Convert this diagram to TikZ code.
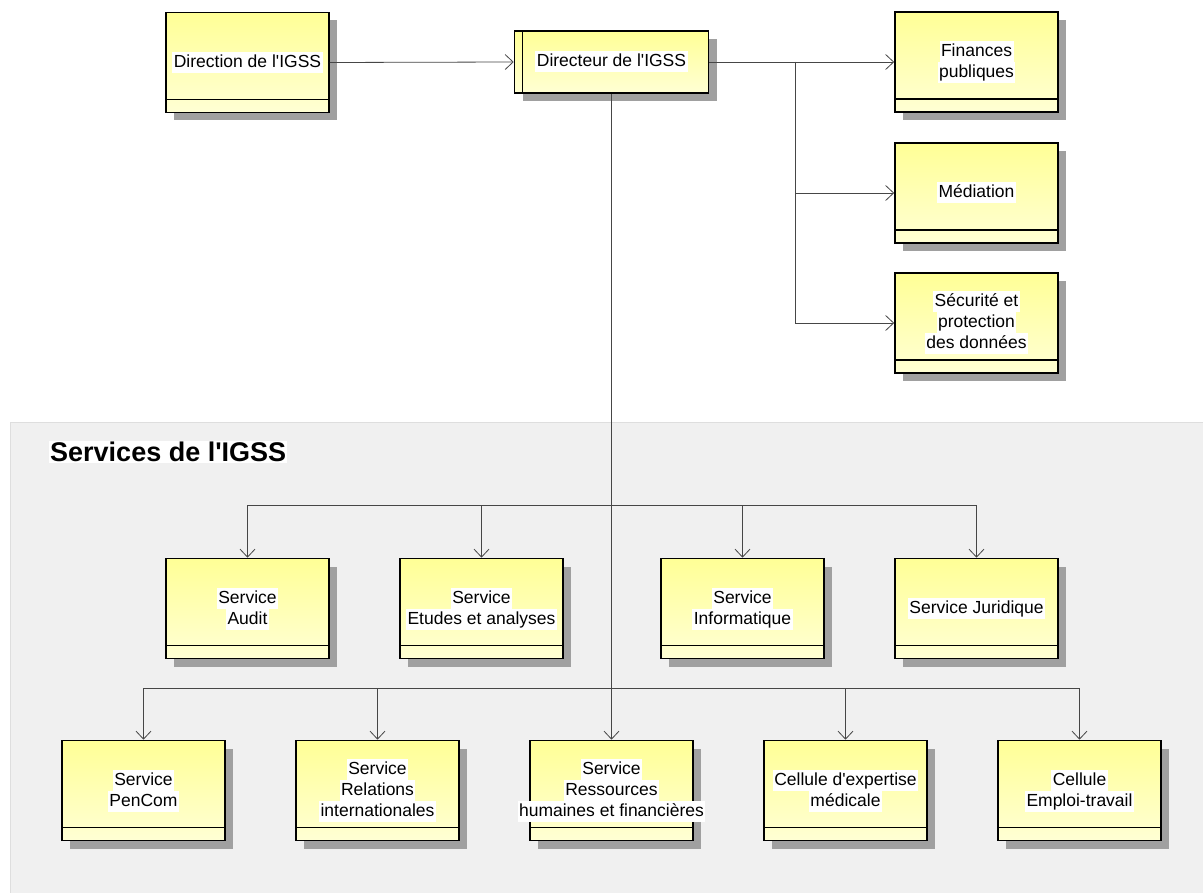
\documentclass[tikz,border=0pt]{standalone}
\usepackage{fontspec}
\setmainfont[Ligatures=TeXOff]{Liberation Sans}
\usetikzlibrary{arrows.meta,shadows}
\definecolor{boxtop}{RGB}{255,255,150}
\definecolor{boxbot}{RGB}{255,255,212}
\definecolor{shadowgray}{RGB}{160,160,160}
\definecolor{panelfill}{RGB}{240,240,240}
\definecolor{paneldraw}{RGB}{222,222,222}
\definecolor{conncol}{RGB}{70,70,70}
\newcommand{\wl}[1]{{\setlength{\fboxsep}{0pt}\colorbox{white}{\rule[-5.5pt]{0pt}{21pt}\hspace{1.5pt}#1\hspace{1.5pt}}}}
\tikzset{
  boxbase/.style={draw=black, line width=1.6pt, top color=boxtop, bottom color=boxbot,
    drop shadow={shadow xshift=8pt, shadow yshift=-8pt, fill=shadowgray, opacity=1},
    align=center, inner sep=0pt, font=\fontsize{17.5}{21}\selectfont},
  umlbox/.style={boxbase, minimum width=163pt, minimum height=100pt,
    path picture={\draw[line width=1.6pt] ([yshift=13pt]path picture bounding box.south west) -- ([yshift=13pt]path picture bounding box.south east);}},
  headbox/.style={boxbase, minimum width=194pt, minimum height=62pt,
    path picture={\draw[line width=1.6pt] ([xshift=8pt]path picture bounding box.north west) -- ([xshift=8pt]path picture bounding box.south west);}},
  conn/.style={draw=conncol, line width=0.8pt, -{Straight Barb[length=8pt,width=15pt,line width=0.8pt]}},
  plain/.style={draw=conncol, line width=0.8pt}
}
\begin{document}
\begin{tikzpicture}[x=1pt,y=-1pt]
\useasboundingbox (0,0) rectangle (1203,893);
\fill[white] (0,0) rectangle (1203,893);
% panel
\path[fill=panelfill, draw=paneldraw, line width=1pt] (10,423) rectangle (1210,900);
\node[anchor=west, fill=white, inner sep=1pt, font=\fontsize{27}{32}\selectfont\bfseries] (title) at (49,452) {Services de l'IGSS};
% top boxes
\node[umlbox] (dir) at (247.5,62.5) {\wl{Direction de l'IGSS}};
\node[headbox] (dgr) at (611.5,62) {\wl{Directeur de l'IGSS}};
\node[umlbox] (fin) at (976.5,62) {\wl{Finances}\\\wl{publiques}};
\node[umlbox] (med) at (976.5,193) {\wl{Médiation}};
\node[umlbox] (sec) at (976.5,323) {\wl{Sécurité et}\\\wl{protection}\\\wl{des données}};
% row 1
\node[umlbox] (aud) at (247.5,608.5) {\wl{Service}\\\wl{Audit}};
\node[umlbox] (etu) at (481.5,608.5) {\wl{Service}\\\wl{Etudes et analyses}};
\node[umlbox] (inf) at (742.5,608.5) {\wl{Service}\\\wl{Informatique}};
\node[umlbox] (jur) at (976.5,608.5) {\wl{Service Juridique}};
% row 2
\node[umlbox] (pen) at (143.5,790.5) {\wl{Service}\\\wl{PenCom}};
\node[umlbox] (rel) at (377.5,790.5) {\wl{Service}\\\wl{Relations}\\\wl{internationales}};
\node[umlbox] (res) at (611.5,790.5) {\wl{Service}\\\wl{Ressources}\\\makebox[0pt]{\wl{humaines et financières}}};
\node[umlbox] (cel) at (845.5,790.5) {\wl{Cellule d'expertise}\\\wl{médicale}};
\node[umlbox] (emp) at (1079.5,790.5) {\wl{Cellule}\\\wl{Emploi-travail}};
% connectors
\draw[conn] (dir.east) -- (dgr.west);
\coordinate (j1) at (795,62);
\draw[plain] (dgr.east) -- (j1);
\draw[conn] (j1) -- (fin.west);
\draw[conn] (j1) |- (med.west);
\draw[conn] (j1) |- (sec.west);
\draw[conn] (dgr.south) -- (res.north);
\coordinate (b1) at (611.5,505);
\coordinate (b2) at (611.5,688);
\draw[conn] (b1) -| (aud.north);
\draw[conn] (b1) -| (etu.north);
\draw[conn] (b1) -| (inf.north);
\draw[conn] (b1) -| (jur.north);
\draw[conn] (b2) -| (pen.north);
\draw[conn] (b2) -| (rel.north);
\draw[conn] (b2) -| (cel.north);
\draw[conn] (b2) -| (emp.north);
\end{tikzpicture}
\end{document}
